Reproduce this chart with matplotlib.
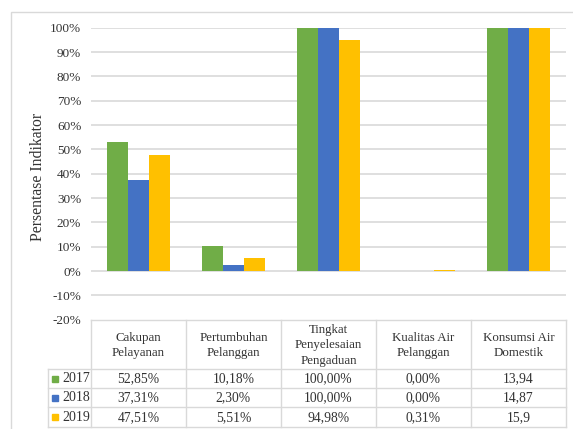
import matplotlib
matplotlib.use("Agg")
import matplotlib.pyplot as plt
from matplotlib.patches import Rectangle
import numpy as np

categories = ["Cakupan\nPelayanan", "Pertumbuhan\nPelanggan", "Tingkat\nPenyelesaian\nPengaduan",
              "Kualitas Air\nPelanggan", "Konsumsi Air\nDomestik"]
years = ["2017", "2018", "2019"]
v2017 = [0.5285, 0.1018, 1.0000, 0.0000, 13.94]
v2018 = [0.3731, 0.0230, 1.0000, 0.0000, 14.87]
v2019 = [0.4751, 0.0551, 0.9498, 0.0031, 15.9]
series = [v2017, v2018, v2019]
colors = ["#70AD47", "#4472C4", "#FFC000"]
yticks = [-0.2, -0.1, 0.0, 0.1, 0.2, 0.3, 0.4, 0.5, 0.6, 0.7, 0.8, 0.9, 1.0]
ylabel = "Persentase Indikator"

plt.rcParams['font.family'] = ['Liberation Serif', 'DejaVu Serif']
FS = 9.5
TC = "#333333"
W, H = 573, 429
fig = plt.figure(figsize=(W / 100, H / 100), dpi=100)

def px_axes(x0, y0, x1, y1):
    return fig.add_axes([x0 / W, 1 - y1 / H, (x1 - x0) / W, (y1 - y0) / H])

grid_c = "#D9D9D9"

# outer frame
fig.patches.append(Rectangle((10.5 / W, -0.1), 2, 1 - 11.5 / H + 0.1, transform=fig.transFigure,
                             fill=False, edgecolor=grid_c, linewidth=1.0))

ax = px_axes(91, 27.7, 566, 319.7)
n = len(categories)
x = np.arange(n)
bw = 0.222
for i, (vals, c) in enumerate(zip(series, colors)):
    ax.bar(x + (i - 1) * bw, vals, width=bw, color=c, zorder=3, edgecolor='none')
ax.set_xlim(-0.5, n - 0.5)
ax.set_ylim(-0.2, 1.0)
ax.set_yticks(yticks)
ax.set_yticklabels([f"{int(round(t * 100))}%" for t in yticks], fontsize=FS, color=TC)
ax.tick_params(axis='y', length=0, pad=7)
ax.set_xticks([])
for s in ax.spines.values():
    s.set_visible(False)
for t in yticks[1:]:
    ax.axhline(t, color=grid_c, linewidth=1.2, zorder=1)
fig.text(38 / W, 1 - 177 / H, ylabel, rotation=90, ha='center', va='center', fontsize=11.3, color=TC)

# data table
leg_w = 43 / 94.8
tax = px_axes(47.7, 319.7, 566, 427.5)
tax.set_xlim(-0.5 - leg_w, n - 0.5)
tax.set_ylim(107.8, 0)
tax.axis('off')
hdr = 49.5
rows = [hdr, hdr + 19, hdr + 38.3, hdr + 57.8]
lc = grid_c
lw = 1.0
tax.plot([-0.5, n - 0.5], [0, 0], color=lc, lw=lw, clip_on=False)
for yv in rows:
    tax.plot([-0.5 - leg_w, n - 0.5], [yv, yv], color=lc, lw=lw, clip_on=False)
tax.plot([-0.5 - leg_w, -0.5 - leg_w], [hdr, rows[-1]], color=lc, lw=lw, clip_on=False)
for k in range(n + 1):
    tax.plot([k - 0.5, k - 0.5], [0, rows[-1]], color=lc, lw=lw, clip_on=False)

for k, cat in enumerate(categories):
    tax.text(k, hdr / 2 + 1, cat, ha='center', va='center', fontsize=9.3, linespacing=1.38, color=TC)

def fmt(v, k):
    if k == n - 1:
        return f"{v:g}".replace('.', ',')
    return f"{v * 100:.2f}%".replace('.', ',')

for r, (yr, vals, c) in enumerate(zip(years, series, colors)):
    yc = (rows[r] + rows[r + 1]) / 2
    tax.add_patch(Rectangle((-0.5 - leg_w + 0.04, yc - 3.2), 0.065, 6.4, color=c, clip_on=False))
    tax.text(-0.5 - leg_w + 0.15, yc, yr, ha='left', va='center', fontsize=FS + 0.5, color=TC)
    for k, v in enumerate(vals):
        tax.text(k, yc, fmt(v, k), ha='center', va='center', fontsize=FS + 0.3, color=TC)

fig.savefig("out.png", dpi=100)
